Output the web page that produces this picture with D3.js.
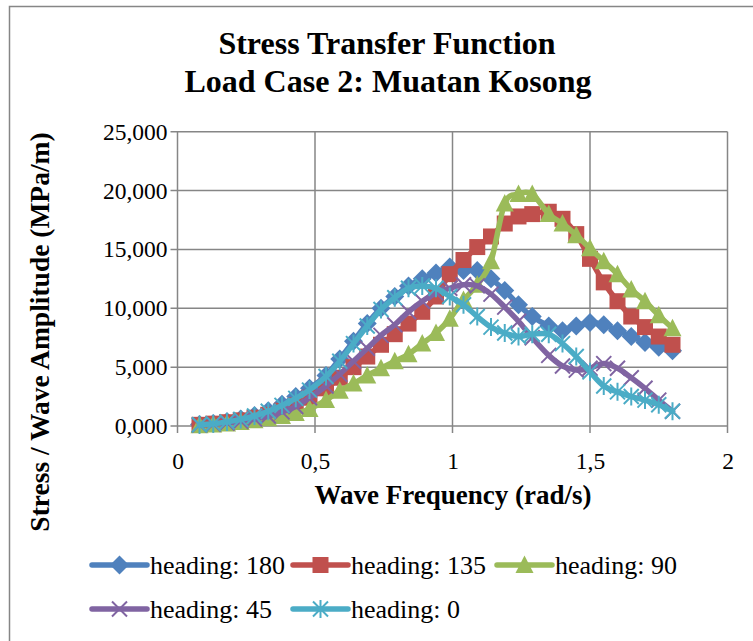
<!DOCTYPE html>
<html><head><meta charset="utf-8">
<script src="https://cdnjs.cloudflare.com/ajax/libs/d3/7.8.5/d3.min.js"></script>
<style>body{margin:0;background:#fff}svg{display:block}</style>
</head><body>
<script>
// ---- data ----
const freq = [0.08,0.13,0.18,0.23,0.28,0.33,0.38,0.43,0.48,0.54,0.59,0.64,0.69,0.74,0.79,0.84,0.89,0.94,0.99,1.04,1.09,1.14,1.19,1.24,1.29,1.35,1.40,1.45,1.50,1.55,1.60,1.65,1.70,1.75,1.80];
const heading180 = [0.12,0.22,0.38,0.60,0.90,1.30,1.85,2.50,3.20,4.30,5.70,7.20,8.70,10.00,11.00,11.90,12.50,13.00,13.50,13.20,13.20,12.50,11.50,10.30,9.30,8.50,8.10,8.50,8.80,8.60,8.10,7.60,7.10,6.70,6.40];
const heading135 = [0.10,0.20,0.32,0.48,0.70,0.95,1.30,1.75,2.40,3.20,4.10,5.00,5.90,6.90,7.80,8.70,9.70,11.00,12.90,14.10,15.20,16.10,17.20,17.80,18.00,18.20,17.60,16.30,14.20,12.20,10.60,9.30,8.40,7.60,6.90];
const heading90  = [0.06,0.13,0.22,0.33,0.48,0.65,0.85,1.10,1.45,2.20,3.00,3.60,4.30,4.90,5.50,6.10,7.00,7.90,9.10,10.70,12.00,14.00,18.90,19.70,19.70,18.00,17.20,16.20,15.10,14.00,12.90,11.60,10.60,9.40,8.30];
const heading45  = [0.08,0.15,0.26,0.40,0.60,0.85,1.20,1.65,2.40,3.40,4.40,5.50,6.60,7.70,8.60,9.70,10.60,11.30,11.70,12.00,11.90,11.20,10.10,8.90,7.50,6.00,5.10,4.75,4.90,5.30,4.90,4.10,3.20,2.20,1.25];
const heading0   = [0.10,0.20,0.35,0.56,0.85,1.25,1.75,2.35,3.05,4.20,5.50,7.00,8.50,9.90,10.90,11.70,11.90,11.70,11.00,10.30,9.30,8.40,7.90,7.60,7.80,7.80,7.00,5.90,4.60,3.40,2.90,2.50,2.20,1.80,1.25];
const seriesNames = ["heading: 180","heading: 135","heading: 90","heading: 45","heading: 0"];
const xTicks = [0,0.5,1,1.5,2];
const yTicks = [0,5,10,15,20,25];
const titleLines = ["Stress Transfer Function","Load Case 2: Muatan Kosong"];
const xTitle = "Wave Frequency (rad/s)";
const yTitle = "Stress / Wave Amplitude (MPa/m)";

// ---- drawing ----
const W = 753, H = 641;
const colors = ["#4F81BD","#C0504D","#9BBB59","#8064A2","#4BACC6"];
const markers = ["diamond","square","triangle","x","star"];
const values = [heading180, heading135, heading90, heading45, heading0];

const loc = d3.formatLocale({decimal:",", thousands:".", grouping:[3], currency:["",""]});
const fy = loc.format(".3f"), fx = loc.format(".1~f");

const svg = d3.select("body").append("svg").attr("width",W).attr("height",H);
svg.append("rect").attr("width",W).attr("height",H).attr("fill","#fff");
svg.append("rect").attr("x",9.5).attr("y",6.5).attr("width",800).attr("height",700)
  .attr("fill","none").attr("stroke","#868686").attr("stroke-width",1.5);

const x = d3.scaleLinear().domain([0,2]).range([177.5,727.5]);
const y = d3.scaleLinear().domain([0,25]).range([426,131.7]);
const serif = "'Liberation Serif','Times New Roman',serif";

// gridlines
const g = svg.append("g");
g.selectAll(".hg").data(yTicks).join("line")
  .attr("x1",x(0)-7).attr("x2",x(2)).attr("y1",d=>y(d)).attr("y2",d=>y(d))
  .attr("stroke","#868686").attr("stroke-width",1.5);
g.selectAll(".vg").data(xTicks).join("line")
  .attr("y1",y(25)).attr("y2",y(0)+7).attr("x1",d=>x(d)).attr("x2",d=>x(d))
  .attr("stroke","#868686").attr("stroke-width",1.5);

// axes labels via d3 axes (lines hidden)
const yAxis = svg.append("g").attr("transform",`translate(${x(0)-7},0)`)
  .call(d3.axisLeft(y).tickValues(yTicks).tickFormat(fy).tickSize(0).tickPadding(3));
const xAxis = svg.append("g").attr("transform",`translate(0,${y(0)+7})`)
  .call(d3.axisBottom(x).tickValues(xTicks).tickFormat(fx).tickSize(0).tickPadding(19));
[yAxis,xAxis].forEach(a=>{a.select(".domain").remove();
  a.selectAll("text").attr("font-family",serif).attr("font-size",23.5).attr("fill","#000");});

// titles
svg.append("text").attr("x",387).attr("y",54).attr("text-anchor","middle")
  .attr("font-family",serif).attr("font-weight","bold").attr("font-size",32).text(titleLines[0]);
svg.append("text").attr("x",388).attr("y",92).attr("text-anchor","middle")
  .attr("font-family",serif).attr("font-weight","bold").attr("font-size",32).text(titleLines[1]);
svg.append("text").attr("x",453).attr("y",504).attr("text-anchor","middle")
  .attr("font-family",serif).attr("font-weight","bold").attr("font-size",27).text(xTitle);
svg.append("text").attr("transform","translate(49,332) rotate(-90)").attr("text-anchor","middle")
  .attr("font-family",serif).attr("font-weight","bold").attr("font-size",27.5).text(yTitle);

function drawMarker(sel, type, color, cx, cy){
  const gm = sel.append("g").attr("transform",`translate(${cx},${cy})`);
  if(type==="diamond") gm.append("path").attr("d","M0,-9.5L9.5,0L0,9.5L-9.5,0Z").attr("fill",color);
  else if(type==="square") gm.append("rect").attr("x",-8).attr("y",-8).attr("width",16).attr("height",16).attr("fill",color);
  else if(type==="triangle") gm.append("path").attr("d","M0,-9.5L9,8L-9,8Z").attr("fill",color);
  else if(type==="x") gm.append("path").attr("d","M-7.5,-7.5L7.5,7.5M-7.5,7.5L7.5,-7.5").attr("stroke",color).attr("stroke-width",2);
  else if(type==="star") gm.append("path").attr("d","M-7.5,-7.5L7.5,7.5M-7.5,7.5L7.5,-7.5M0,-9L0,9").attr("stroke",color).attr("stroke-width",2);
}

const line = d3.line().x(d=>x(d[0])).y(d=>y(d[1])).curve(d3.curveCatmullRom.alpha(0));
values.forEach((vals,i)=>{
  const pts = freq.map((f,j)=>[f,vals[j]]);
  const gs = svg.append("g");
  gs.append("path").attr("d",line(pts)).attr("fill","none").attr("stroke",colors[i])
    .attr("stroke-width",5.5).attr("stroke-linejoin","round").attr("stroke-linecap","round");
  pts.forEach(p=>drawMarker(gs, markers[i], colors[i], x(p[0]), y(p[1])));
});

// legend
const legPos = [[92,565],[293,565],[497,565],[92,609],[293,609]];
seriesNames.forEach((nm,i)=>{
  const [lx,ly] = legPos[i];
  const gl = svg.append("g");
  gl.append("line").attr("x1",lx).attr("x2",lx+55).attr("y1",ly).attr("y2",ly)
    .attr("stroke",colors[i]).attr("stroke-width",5.5).attr("stroke-linecap","round");
  drawMarker(gl, markers[i], colors[i], lx+27.5, ly);
  gl.append("text").attr("x",lx+58).attr("y",ly+9).attr("font-family",serif)
    .attr("font-size",26).text(nm);
});
</script>
</body></html>
